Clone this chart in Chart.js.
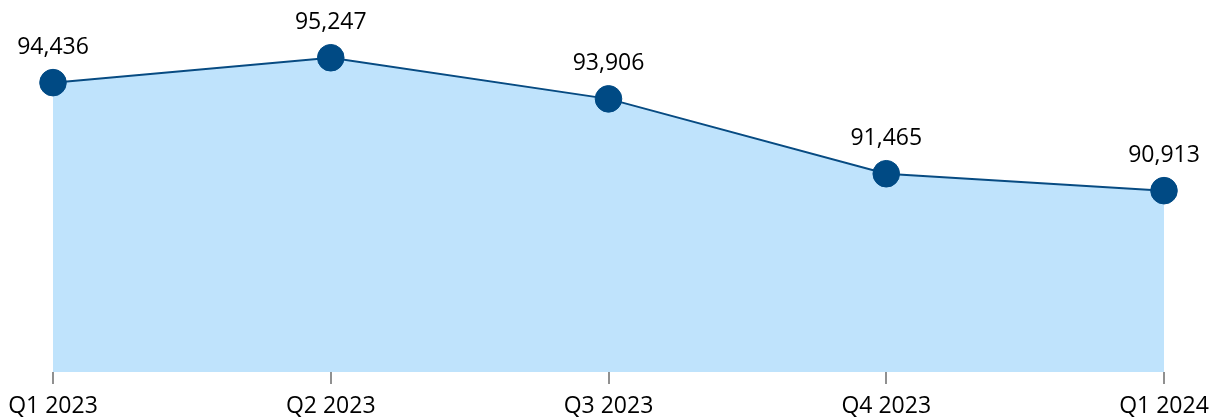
<!DOCTYPE html>
<html>
<head>
<meta charset="utf-8">
<script src="https://cdn.jsdelivr.net/npm/chart.js@4.4.1/dist/chart.umd.min.js"></script>
<style>
  html, body { margin: 0; padding: 0; background: #fff; }
  #wrap { width: 1212px; height: 418px; position: relative; }
</style>
</head>
<body>
<div id="wrap"><canvas id="chart"></canvas></div>
<script>
const quarters = ["Q1 2023", "Q2 2023", "Q3 2023", "Q4 2023", "Q1 2024"];
const values = [94436, 95247, 93906, 91465, 90913];

const FONT = "'Open Sans', sans-serif";

// draws the number above each point
const valueLabels = {
  id: "valueLabels",
  afterDatasetsDraw(chart) {
    const ctx = chart.ctx;
    const meta = chart.getDatasetMeta(0);
    ctx.save();
    ctx.font = "23px " + FONT;
    ctx.fillStyle = "#000";
    ctx.textAlign = "center";
    ctx.textBaseline = "middle";
    meta.data.forEach((pt, i) => {
      ctx.fillText(values[i].toLocaleString("en-US"), pt.x, pt.y - 35);
    });
    ctx.restore();
  },
};

new Chart(document.getElementById("chart"), {
  type: "line",
  data: {
    labels: quarters,
    datasets: [
      {
        data: values,
        borderColor: "#074b82",
        borderWidth: 2,
        backgroundColor: "#bfe3fc",
        fill: "start",
        pointRadius: 13.3,
        pointBorderWidth: 1,
        pointBackgroundColor: "#004a84",
        pointBorderColor: "#004a84",
        tension: 0,
      },
    ],
  },
  options: {
    responsive: true,
    maintainAspectRatio: false,
    animation: false,
    layout: { autoPadding: false, padding: { left: 53, right: 48, top: 4, bottom: 0 } },
    plugins: { legend: { display: false }, tooltip: { enabled: false } },
    scales: {
      x: {
        offset: false,
        border: { display: false },
        grid: {
          drawOnChartArea: false,
          drawTicks: true,
          tickLength: 23,
          tickBorderDash: [12, 100],
          color: "#909090",
          lineWidth: 2,
        },
        ticks: {
          color: "#000",
          font: { family: FONT, size: 23, lineHeight: 1.0 },
          padding: 0,
          maxRotation: 0,
          autoSkip: false,
        },
      },
      y: {
        display: false,
        min: 85000,
        max: 97000,
      },
    },
  },
  plugins: [valueLabels],
});
</script>
</body>
</html>
